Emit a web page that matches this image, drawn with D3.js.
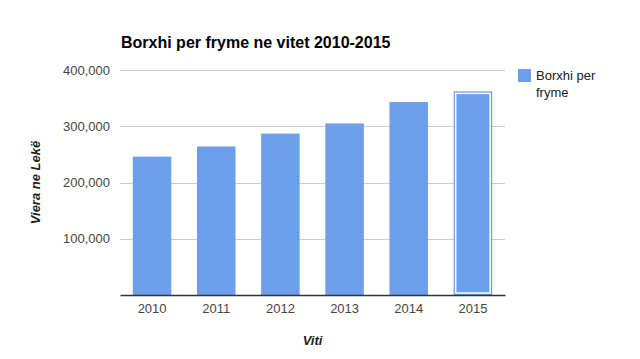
<!DOCTYPE html>
<html>
<head>
<meta charset="utf-8">
<script src="https://cdn.jsdelivr.net/npm/d3@7"></script>
<style>
  body { margin: 0; background: #fff; }
  text { font-family: Arial, "Liberation Sans", sans-serif; }
</style>
</head>
<body>
<div id="chart"></div>
<script>
// data
const years = ["2010", "2011", "2012", "2013", "2014", "2015"];
const values = [246000, 264000, 287000, 305000, 343000, 362000];
const yTicks = [100000, 200000, 300000, 400000];
const seriesName = ["Borxhi per", "fryme"];

const W = 640, H = 359;
const margin = { top: 70, right: 135, bottom: 64, left: 120 };
const width = W - margin.left - margin.right;
const height = H - margin.top - margin.bottom;
const barColor = "#6d9eeb";

const svg = d3.select("#chart").append("svg")
  .attr("width", W)
  .attr("height", H);

const g = svg.append("g")
  .attr("transform", `translate(${margin.left},${margin.top})`);

const x = d3.scaleBand()
  .domain(years)
  .range([0, width])
  .paddingInner(0.4)
  .paddingOuter(0.2);

const y = d3.scaleLinear()
  .domain([0, 400000])
  .range([height, 0]);

// gridlines
g.selectAll("line.grid")
  .data(yTicks)
  .enter()
  .append("line")
  .attr("x1", 0)
  .attr("x2", width)
  .attr("y1", d => Math.round(y(d)) + 0.5)
  .attr("y2", d => Math.round(y(d)) + 0.5)
  .attr("stroke", "#cccccc");

// y tick labels
g.selectAll("text.ytick")
  .data(yTicks)
  .enter()
  .append("text")
  .attr("x", -10)
  .attr("y", d => y(d))
  .attr("dy", "0.35em")
  .attr("text-anchor", "end")
  .attr("font-size", 13)
  .attr("fill", "#444")
  .text(d => d3.format(",")(d));

// bars
const data = years.map((yr, i) => ({ year: yr, value: values[i] }));
g.selectAll("rect.bar")
  .data(data)
  .enter()
  .append("rect")
  .attr("x", d => x(d.year))
  .attr("y", d => y(d.value))
  .attr("width", x.bandwidth())
  .attr("height", d => height - y(d.value))
  .attr("fill", barColor);

// highlight on last bar
const last = data[data.length - 1];
g.append("rect")
  .attr("x", x(last.year) + 2)
  .attr("y", y(last.value) + 2)
  .attr("width", x.bandwidth() - 4)
  .attr("height", height - y(last.value) - 4)
  .attr("fill", "none")
  .attr("stroke", "#fff")
  .attr("stroke-width", 1.5);

// baseline + x labels
const xAxis = g.append("g")
  .attr("transform", `translate(0,${height})`)
  .call(d3.axisBottom(x).tickSize(0).tickPadding(9));
xAxis.select(".domain").attr("stroke", "#333").attr("stroke-width", 1.5);
xAxis.selectAll("text")
  .attr("font-size", 13)
  .attr("fill", "#444")
  .attr("font-family", "Arial, 'Liberation Sans', sans-serif");

// title
svg.append("text")
  .attr("x", 121)
  .attr("y", 48)
  .attr("font-size", 16)
  .attr("font-weight", "bold")
  .attr("fill", "#000")
  .text("Borxhi per fryme ne vitet 2010-2015");

// axis titles
svg.append("text")
  .attr("x", margin.left + width / 2)
  .attr("y", 345)
  .attr("text-anchor", "middle")
  .attr("font-size", 13)
  .attr("font-weight", "bold")
  .attr("font-style", "italic")
  .attr("fill", "#222")
  .text("Viti");

svg.append("text")
  .attr("transform", `translate(40,${margin.top + height / 2}) rotate(-90)`)
  .attr("text-anchor", "middle")
  .attr("font-size", 13)
  .attr("font-weight", "bold")
  .attr("font-style", "italic")
  .attr("fill", "#222")
  .text("Viera ne Lekë");

// legend
const legend = svg.append("g").attr("transform", "translate(518,69)");
legend.append("rect")
  .attr("width", 13)
  .attr("height", 13)
  .attr("fill", barColor);
legend.selectAll("text")
  .data(seriesName)
  .enter()
  .append("text")
  .attr("x", 18)
  .attr("y", (d, i) => 11 + i * 17)
  .attr("font-size", 13)
  .attr("fill", "#222")
  .text(d => d);
</script>
</body>
</html>
